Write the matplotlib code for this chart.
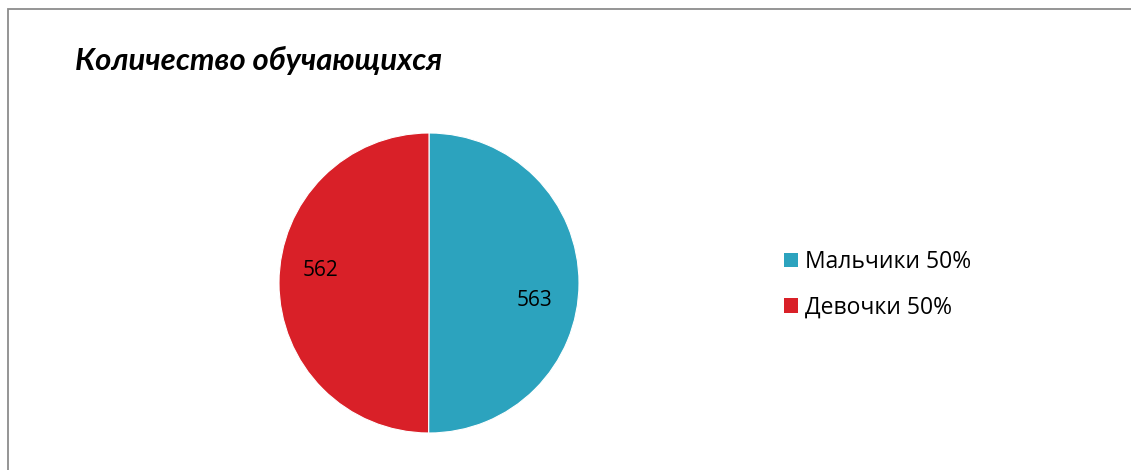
import matplotlib
matplotlib.use("Agg")
import matplotlib.pyplot as plt
from matplotlib.patches import Rectangle, Patch

title = "Количество обучающихся"
categories = ["Мальчики", "Девочки"]
values = [563, 562]
colors = ["#2CA3BE", "#D92028"]

W, H = 1131, 470
fig = plt.figure(figsize=(W / 100, H / 100), dpi=100)
fig.patch.set_facecolor("white")

# outer chart border (left + top visible)
fig.add_artist(Rectangle((8 / W, -0.1), 1.2, (H - 9) / H + 0.1, transform=fig.transFigure,
                         fill=False, edgecolor="#8C8C8C", linewidth=1.3))

fig.text(75 / W, 1 - 60 / H, title, fontsize=22.3, fontweight="bold", fontstyle="italic",
         family=["Lato", "DejaVu Sans"], va="center", ha="left")

cx, cy, r = 429, 283, 150
ax = fig.add_axes([(cx - r) / W, (H - cy - r) / H, 2 * r / W, 2 * r / H])
wedges, _ = ax.pie(values, colors=colors, startangle=90, counterclock=False,
                   wedgeprops=dict(linewidth=0.8, edgecolor="white"))
ax.set_xlim(-1, 1)
ax.set_ylim(-1, 1)
ax.set_aspect("equal")
ax.axis("off")

label_pos = [(535, 300), (321, 270)]
for v, (px, py) in zip(values, label_pos):
    ax.text((px - cx) / r, (cy - py) / r, str(v), ha="center", va="center",
            fontsize=15, family=["Open Sans", "DejaVu Sans"])

total = sum(values)
handles = [Patch(facecolor=c) for c in colors]
labels = [f"{n} {round(100 * v / total)}%" for n, v in zip(categories, values)]
fig.legend(handles, labels, loc="upper left", bbox_to_anchor=(784 / W, 1 - 250 / H),
           frameon=False, prop=dict(family=["Open Sans", "DejaVu Sans"], size=16.5),
           borderpad=0, borderaxespad=0,
           handlelength=0.62, handleheight=0.62, handletextpad=0.3, labelspacing=0.93)

fig.savefig("out.png", dpi=100, facecolor="white")
